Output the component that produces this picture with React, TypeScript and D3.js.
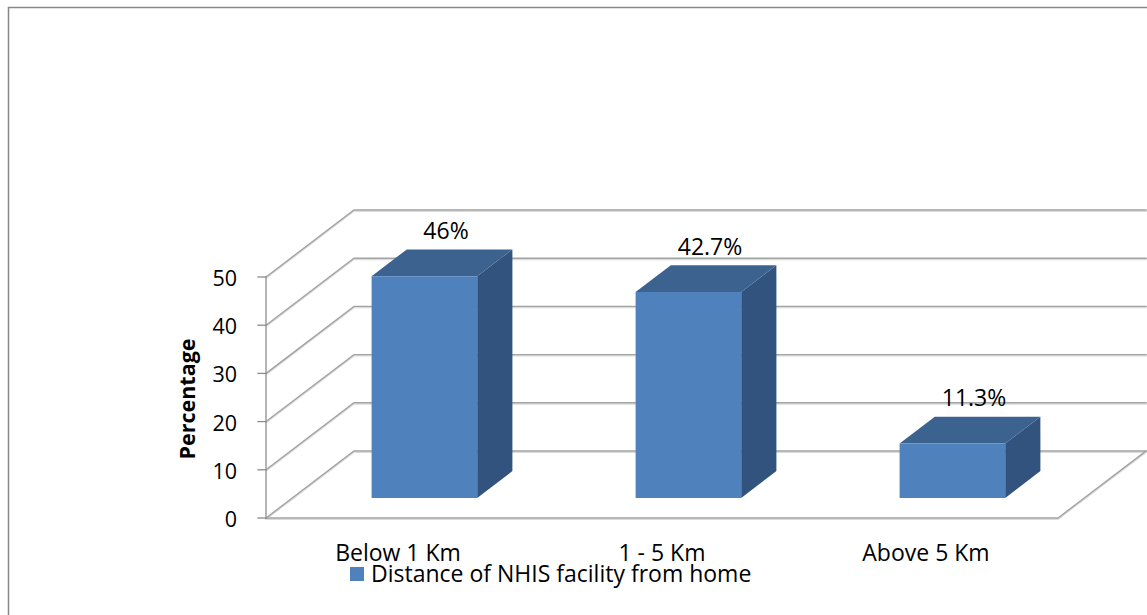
import React from "react";
import * as d3 from "d3";

// Chart data
const categories = ["Below 1 Km", "1 - 5 Km", "Above 5 Km"];
const values = [46, 42.7, 11.3];
const valueLabels = ["46%", "42.7%", "11.3%"];
const yTicks = [0, 10, 20, 30, 40, 50];
const seriesName = "Distance of NHIS facility from home";
const axisTitle = "Percentage";

// Layout of the 3-D plot box
const W = 1147;
const H = 615;
const originX = 266; // front-left corner of floor
const floorY = 518; // front floor line
const plotW = 792; // width of floor front edge
const depthDX = 88; // depth projection
const depthDY = 67;
const barDepthFrom = 0.3;
const barDepthTo = 0.7;

const FONT = "'Open Sans', 'Noto Sans', sans-serif";
const GRID = "#a3a3a3";
const FRONT = "#4f81bd";
const TOP = "#3c6290";
const SIDE = "#31537d";

export default function App() {
  const x = d3
    .scaleBand<string>()
    .domain(categories)
    .range([0, plotW])
    .paddingInner(0.6)
    .paddingOuter(0.3);
  const y = d3.scaleLinear().domain([0, 50]).range([floorY, 277]);

  // project plane coordinate (px along x, value, depth 0..1) to screen
  const P = (px: number, v: number, d: number): [number, number] => [
    originX + px + d * depthDX,
    y(v) - d * depthDY,
  ];
  const pts = (arr: [number, number][]) => arr.map((p) => p.join(",")).join(" ");

  const backRight = originX + plotW + depthDX;

  return (
    <svg
      width={W}
      height={H}
      style={{ position: "absolute", left: 0, top: 0, background: "#fff" }}
      fontFamily={FONT}
    >
      {/* outer chart border */}
      <rect x={8.5} y={7.5} width={W + 20} height={H + 20} fill="none" stroke="#878787" strokeWidth={1.5} />

      {/* gridlines: left wall diagonals + back wall horizontals */}
      <g fill="none" strokeLinecap="square">
        {yTicks.map((t) => {
          const [x0, y0] = P(0, t, 0);
          const [x1, y1] = P(0, t, 1);
          const d = `M${x0},${y0}L${x1},${y1}L${backRight},${y1}`;
          return (
            <g key={t}>
              <path d={d} stroke="#dcdcdc" strokeWidth={1.5} transform="translate(0,1.2)" />
              <path d={d} stroke={GRID} strokeWidth={1.4} />
            </g>
          );
        })}
        {/* floor outline */}
        {(() => {
          const a = P(0, 0, 0);
          const b = P(plotW, 0, 0);
          const c = P(plotW, 0, 1);
          const d = `M${a[0]},${a[1]}L${b[0]},${b[1]}L${c[0]},${c[1]}`;
          return (
            <g>
              <path d={d} stroke="#dcdcdc" strokeWidth={1.5} transform="translate(0,1.2)" />
              <path d={d} stroke={GRID} strokeWidth={1.4} />
            </g>
          );
        })()}
        {/* value axis line and ticks */}
        <path d={`M${originX},${y(50)}L${originX},${floorY}`} stroke={GRID} strokeWidth={1.6} />
        {yTicks.map((t) => (
          <path key={"tk" + t} d={`M${originX - 8},${y(t)}L${originX},${y(t)}`} stroke="#8c8c8c" strokeWidth={1.3} />
        ))}
      </g>

      {/* tick labels */}
      <g fontSize={21.5} fill="#000" textAnchor="end">
        {yTicks.map((t) => (
          <text key={"lb" + t} x={237} y={y(t) + 9}>
            {t}
          </text>
        ))}
      </g>

      {/* axis title */}
      <text
        transform={`translate(195,399) rotate(-90)`}
        textAnchor="middle"
        fontWeight="bold"
        fontSize={21.5}
      >
        {axisTitle}
      </text>

      {/* 3-D bars */}
      {categories.map((c, i) => {
        const v = values[i];
        const x0 = x(c)!;
        const x1 = x0 + x.bandwidth();
        const fBL = P(x0, 0, barDepthFrom);
        const fTL = P(x0, v, barDepthFrom);
        const fTR = P(x1, v, barDepthFrom);
        const fBR = P(x1, 0, barDepthFrom);
        const bTL = P(x0, v, barDepthTo);
        const bTR = P(x1, v, barDepthTo);
        const bBR = P(x1, 0, barDepthTo);
        const labelX = (fTL[0] + bTR[0]) / 2 + 4;
        const labelY = bTR[1] - 10.5;
        return (
          <g key={c}>
            <polygon points={pts([fBR, fTR, bTR, bBR])} fill={SIDE} />
            <polygon points={pts([fTL, bTL, bTR, fTR])} fill={TOP} />
            <polygon points={pts([fBL, fTL, fTR, fBR])} fill={FRONT} />
            <text x={labelX} y={labelY} textAnchor="middle" fontSize={23}>
              {valueLabels[i]}
            </text>
          </g>
        );
      })}

      {/* category labels */}
      <g fontSize={23} textAnchor="middle">
        {categories.map((c) => (
          <text key={"cat" + c} x={originX + x(c)! + x.bandwidth() / 2} y={561}>
            {c}
          </text>
        ))}
      </g>

      {/* legend */}
      <rect x={350} y={567} width={14} height={14} fill={FRONT} />
      <text x={371} y={582} fontSize={23}>
        {seriesName}
      </text>
    </svg>
  );
}
